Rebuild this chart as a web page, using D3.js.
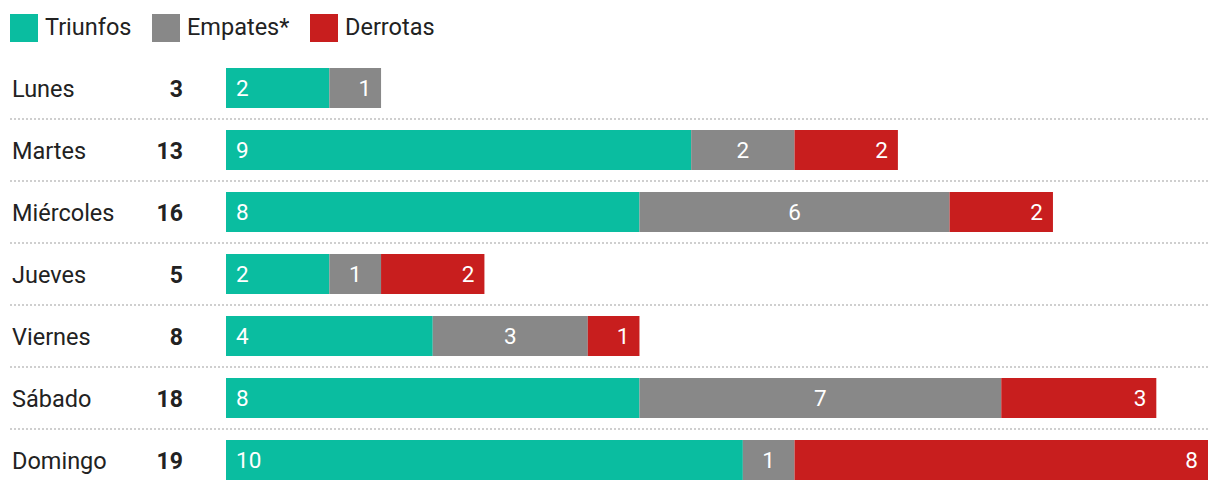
<!DOCTYPE html>
<html><head><meta charset="utf-8">
<script src="https://cdn.jsdelivr.net/npm/d3@7"></script>
<style>body{margin:0;background:#fff;font-family:Roboto,sans-serif}</style>
</head><body><svg id="c" width="1220" height="492"></svg>
<script>
const days = ["Lunes","Martes","Miércoles","Jueves","Viernes","Sábado","Domingo"];
const triunfos = [2,9,8,2,4,8,10];
const empates = [1,2,6,1,3,7,1];
const derrotas = [0,2,2,2,1,3,8];
const seriesNames = ["Triunfos","Empates*","Derrotas"];
const colors = ["#0ABDA0","#888888","#C81E1E"];

const svg = d3.select("#c");
const totals = days.map((d,i)=>triunfos[i]+empates[i]+derrotas[i]);
const x = d3.scaleLinear().domain([0,19]).range([226,1208]);
const y = d3.scaleBand().domain(days).range([57,491]).paddingInner(22/62).paddingOuter(11/62);
const step = y.step();

// legend
const lg = svg.append("g");
const lx = [10,152,310];
seriesNames.forEach((n,i)=>{
  lg.append("rect").attr("x",lx[i]).attr("y",14).attr("width",28).attr("height",28).attr("fill",colors[i]);
  lg.append("text").attr("x",lx[i]+35).attr("y",35).attr("font-size",23.5).attr("fill","#222").text(n);
});

// separators
days.slice(0,-1).forEach(d=>{
  const yy = y(d)+y.bandwidth()+(step-y.bandwidth())/2;
  svg.append("line").attr("x1",10).attr("x2",1208).attr("y1",yy).attr("y2",yy)
    .attr("stroke","#cfcfcf").attr("stroke-width",2).attr("stroke-dasharray","2,2");
});

const stack = d3.stack().keys([0,1,2]).value((d,k)=>d.v[k]);
const data = days.map((d,i)=>({day:d,v:[triunfos[i],empates[i],derrotas[i]]}));
const layers = stack(data);

layers.forEach((layer,k)=>{
  svg.append("g").selectAll("rect").data(layer).join("rect")
    .attr("x",d=>x(d[0])).attr("width",d=>x(d[1])-x(d[0]))
    .attr("y",d=>y(d.data.day)).attr("height",y.bandwidth())
    .attr("fill",colors[k]);
});

// segment labels
data.forEach((row,i)=>{
  const segs = [];
  layers.forEach((layer,k)=>{ const d=layer[i]; if(row.v[k]>0) segs.push({k,a:d[0],b:d[1],v:row.v[k]}); });
  segs.forEach((s,j)=>{
    let tx, anchor;
    if(j===0){tx=x(s.a)+10;anchor="start";}
    else if(j===segs.length-1){tx=x(s.b)-10;anchor="end";}
    else {tx=(x(s.a)+x(s.b))/2;anchor="middle";}
    svg.append("text").attr("x",tx).attr("y",y(row.day)+y.bandwidth()/2+8)
      .attr("text-anchor",anchor).attr("font-size",22.5).attr("fill","#fff").text(s.v);
  });
  svg.append("text").attr("x",12).attr("y",y(row.day)+y.bandwidth()/2+8.5)
    .attr("font-size",23.5).attr("fill","#222").text(row.day);
  svg.append("text").attr("x",183).attr("y",y(row.day)+y.bandwidth()/2+8.5)
    .attr("font-size",23).attr("font-weight","bold").attr("text-anchor","end").attr("fill","#222").text(totals[i]);
});
</script></body></html>
